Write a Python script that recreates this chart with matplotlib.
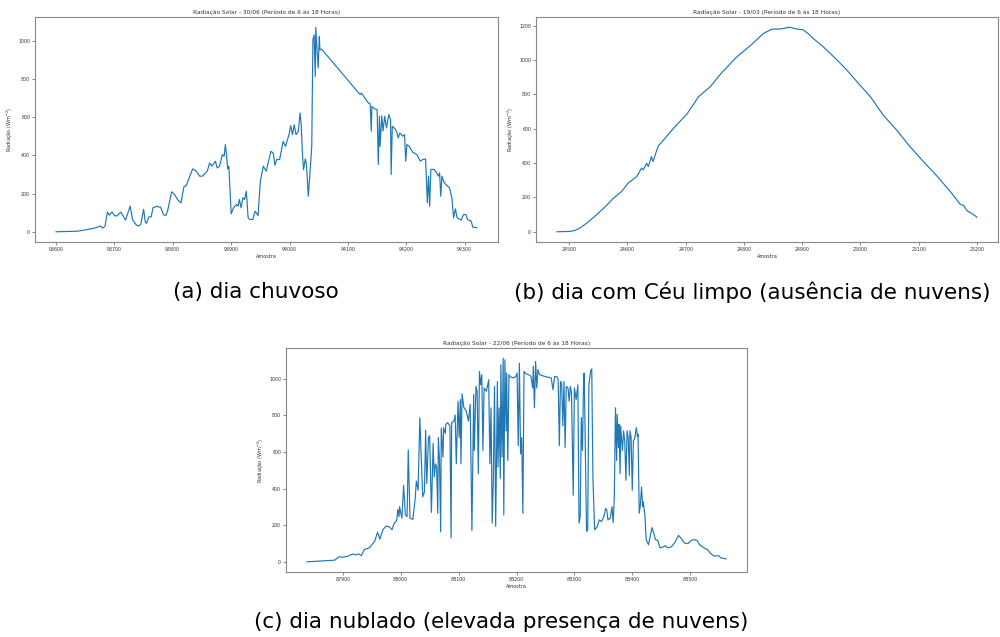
import numpy as np
import matplotlib

matplotlib.use('Agg')

import matplotlib.pyplot as plt
from matplotlib.ticker import MultipleLocator

# (a) dia chuvoso - 30/06
chuva_x = [93600, 93637, 93654, 93668, 93676, 93680, 93684, 93688, 93691, 93696,
           93700, 93704, 93711, 93719, 93727, 93731, 93737, 93741, 93745, 93750,
           93753, 93755, 93759, 93763, 93766, 93773, 93775, 93779, 93784, 93788,
           93791, 93798, 93803, 93808, 93814, 93819, 93823, 93827, 93834, 93840,
           93846, 93851, 93859, 93863, 93867, 93873, 93876, 93880, 93885, 93888,
           93890, 93892, 93894, 93896, 93900, 93904, 93909, 93912, 93914, 93917,
           93920, 93923, 93926, 93929, 93932, 93937, 93941, 93946, 93950, 93955,
           93960, 93968, 93972, 93975, 93978, 93983, 93989, 93993, 93999, 94002,
           94005, 94008, 94011, 94015, 94018, 94020, 94022, 94024, 94027, 94029,
           94032, 94035, 94038, 94040, 94042, 94044, 94045, 94047, 94049, 94051,
           94052, 94055, 94121, 94123, 94135, 94138, 94140, 94141, 94145, 94150,
           94152, 94154, 94155, 94158, 94160, 94163, 94166, 94170, 94173, 94174,
           94176, 94181, 94184, 94186, 94189, 94194, 94197, 94199, 94201, 94205,
           94211, 94218, 94224, 94228, 94233, 94236, 94238, 94240, 94242, 94248,
           94252, 94255, 94257, 94259, 94261, 94265, 94271, 94274, 94278, 94281,
           94284, 94287, 94294, 94298, 94302, 94305, 94311, 94314, 94321]
chuva_y = [0, 3, 12, 21, 30, 19, 30, 104, 87, 104,
           85, 82, 103, 61, 134, 64, 37, 30, 38, 117,
           50, 44, 78, 78, 125, 134, 130, 129, 90, 85,
           108, 209, 195, 169, 151, 235, 242, 273, 329, 317,
           291, 291, 317, 360, 343, 369, 334, 343, 404, 395,
           456, 404, 329, 343, 94, 125, 143, 134, 169, 125,
           178, 169, 212, 73, 64, 64, 108, 85, 265, 343,
           317, 421, 412, 348, 378, 378, 473, 447, 508, 555,
           508, 560, 508, 525, 621, 560, 412, 325, 381, 352,
           186, 308, 447, 1004, 1030, 813, 1070, 952, 856, 1021,
           952, 955, 717, 726, 674, 670, 526, 656, 644, 639,
           352, 604, 447, 607, 526, 604, 543, 613, 587, 299,
           552, 538, 517, 491, 517, 500, 508, 369, 456, 447,
           416, 404, 369, 378, 381, 151, 291, 134, 326, 326,
           308, 291, 308, 186, 291, 256, 238, 230, 178, 73,
           120, 73, 61, 90, 90, 64, 56, 24, 21]

# (b) ceu limpo - 19/03
limpo_x = [24479, 24501, 24510, 24517, 24530, 24547, 24564, 24576, 24590, 24601,
           24616, 24624, 24627, 24633, 24636, 24641, 24644, 24649, 24653, 24662,
           24679, 24702, 24722, 24742, 24762, 24788, 24813, 24833, 24848, 24856,
           24865, 24878, 24891, 24902, 24911, 24919, 24936, 24954, 24974, 24994,
           25017, 25039, 25062, 25085, 25108, 25131, 25154, 25171, 25177, 25183,
           25191, 25200]
limpo_y = [0, 2, 8, 19, 50, 99, 153, 196, 235, 283,
           322, 370, 361, 399, 380, 438, 409, 463, 501, 535,
           603, 686, 787, 845, 928, 1020, 1091, 1155, 1181, 1181,
           1183, 1192, 1181, 1177, 1152, 1126, 1078, 1020, 952, 874,
           787, 680, 593, 496, 409, 326, 235, 161, 153, 122,
           107, 85]

# (c) nublado - 22/06
nublado_x = [87838, 87886, 87893, 87900, 87909, 87917, 87923, 87927, 87932, 87937,
             87946, 87955, 87960, 87964, 87969, 87975, 87981, 87985, 87989, 87993,
             87995, 87997, 87998, 88002, 88005, 88008, 88011, 88013, 88016, 88021,
             88025, 88027, 88030, 88033, 88035, 88038, 88041, 88043, 88045, 88048,
             88050, 88053, 88056, 88058, 88060, 88062, 88064, 88065, 88067, 88069,
             88070, 88073, 88074, 88077, 88078, 88081, 88085, 88087, 88088, 88092,
             88094, 88096, 88099, 88101, 88103, 88104, 88106, 88109, 88113, 88117,
             88120, 88123, 88126, 88127, 88130, 88132, 88134, 88136, 88138, 88140,
             88142, 88144, 88148, 88152, 88154, 88156, 88158, 88160, 88162, 88164,
             88167, 88168, 88170, 88172, 88173, 88175, 88177, 88178, 88180, 88182,
             88183, 88185, 88187, 88189, 88195, 88199, 88201, 88203, 88205, 88207,
             88209, 88211, 88213, 88217, 88221, 88225, 88228, 88229, 88231, 88233,
             88235, 88237, 88240, 88248, 88260, 88263, 88266, 88270, 88272, 88274,
             88276, 88278, 88280, 88282, 88284, 88286, 88289, 88291, 88293, 88295,
             88298, 88300, 88303, 88306, 88308, 88310, 88312, 88314, 88316, 88317,
             88320, 88321, 88323, 88325, 88328, 88330, 88332, 88335, 88339, 88343,
             88347, 88351, 88354, 88356, 88358, 88362, 88365, 88367, 88369, 88371,
             88373, 88374, 88376, 88377, 88379, 88380, 88383, 88385, 88387, 88389,
             88391, 88393, 88395, 88396, 88398, 88400, 88402, 88404, 88407, 88409,
             88410, 88412, 88414, 88416, 88418, 88419, 88422, 88424, 88428, 88431,
             88434, 88437, 88440, 88444, 88448, 88453, 88457, 88461, 88467, 88473,
             88480, 88484, 88490, 88496, 88502, 88507, 88512, 88516, 88524, 88530,
             88536, 88542, 88549, 88553, 88562]
nublado_y = [0, 9, 27, 25, 31, 43, 38, 43, 34, 67,
             77, 112, 162, 124, 175, 196, 189, 175, 211, 225,
             286, 247, 301, 238, 418, 256, 247, 611, 238, 232,
             346, 441, 391, 787, 607, 355, 382, 719, 427, 679,
             688, 270, 647, 463, 535, 517, 265, 679, 553, 164,
             730, 571, 733, 701, 751, 760, 742, 130, 760, 769,
             802, 535, 877, 679, 886, 535, 917, 843, 825, 769,
             859, 171, 913, 607, 958, 931, 481, 1040, 967, 1022,
             607, 949, 931, 994, 535, 841, 211, 454, 958, 193,
             985, 517, 841, 454, 1076, 571, 1112, 256, 1103, 715,
             1031, 553, 1022, 1010, 1004, 1013, 1031, 634, 1085, 589,
             679, 265, 1040, 1025, 1022, 1013, 949, 1067, 841, 1094,
             949, 1049, 1022, 1013, 1004, 940, 1013, 1010, 994, 634,
             985, 973, 742, 985, 625, 958, 949, 877, 958, 922,
             364, 949, 886, 967, 211, 247, 787, 607, 1022, 1031,
             391, 166, 175, 967, 1040, 1054, 463, 175, 189, 229,
             220, 247, 292, 283, 229, 238, 301, 214, 355, 841,
             553, 805, 625, 751, 481, 742, 607, 715, 661, 445,
             715, 679, 472, 715, 679, 391, 661, 670, 733, 683,
             697, 265, 310, 409, 301, 328, 247, 121, 94, 139,
             187, 157, 121, 117, 76, 81, 88, 76, 81, 103,
             144, 130, 103, 99, 117, 121, 117, 94, 76, 67,
             43, 31, 34, 22, 16]

titulos = ['Radiação Solar - 30/06 (Período de 6 às 18 Horas)',
           'Radiação Solar - 19/03 (Período de 6 às 18 Horas)',
           'Radiação Solar - 22/06 (Período de 6 às 18 Horas)']
legendas = ['(a) dia chuvoso',
            '(b) dia com Céu limpo (ausência de nuvens)',
            '(c) dia nublado (elevada presença de nuvens)']

plt.rcParams['font.family'] = ['DejaVu Sans']

fig = plt.figure(figsize=(10, 6.37), dpi=100)
W, H = 1000.0, 637.0

def box(l, t, r, b):
    return [l / W, 1 - b / H, (r - l) / W, (b - t) / H]

eixos = [fig.add_axes(box(35, 17, 498, 242)),
         fig.add_axes(box(536, 17, 998, 242)),
         fig.add_axes(box(286, 348, 747, 572))]
dados = [(chuva_x, chuva_y), (limpo_x, limpo_y), (nublado_x, nublado_y)]

for ax, (x, y), tit in zip(eixos, dados, titulos):
    ax.plot(x, y, color='#1f77b4', lw=0.85)
    ax.set_title(tit, fontsize=4.2, pad=2, color='#333333')
    ax.set_xlabel('Amostra', fontsize=3.6, labelpad=1.5, color='#333333')
    ax.set_ylabel('Radiação (Wm$^{-2}$)', fontsize=3.6, labelpad=2, color='#333333')
    ax.xaxis.set_major_locator(MultipleLocator(100))
    ax.yaxis.set_major_locator(MultipleLocator(200))
    ax.ticklabel_format(useOffset=False, style='plain')
    ax.tick_params(labelsize=3.4, length=2, width=0.5, pad=1.5,
                   colors='#555555', labelcolor='#333333')
    for s in ax.spines.values():
        s.set_color('#888888')
        s.set_linewidth(0.8)

fig.text(0.256, 1 - 292 / H, legendas[0], ha='center', va='center', fontsize=15.5)
fig.text(0.752, 1 - 292 / H, legendas[1], ha='center', va='center', fontsize=15.5)
fig.text(0.501, 1 - 622 / H, legendas[2], ha='center', va='center', fontsize=15.5)

fig.savefig('out.png', dpi=100)
plt.close()
